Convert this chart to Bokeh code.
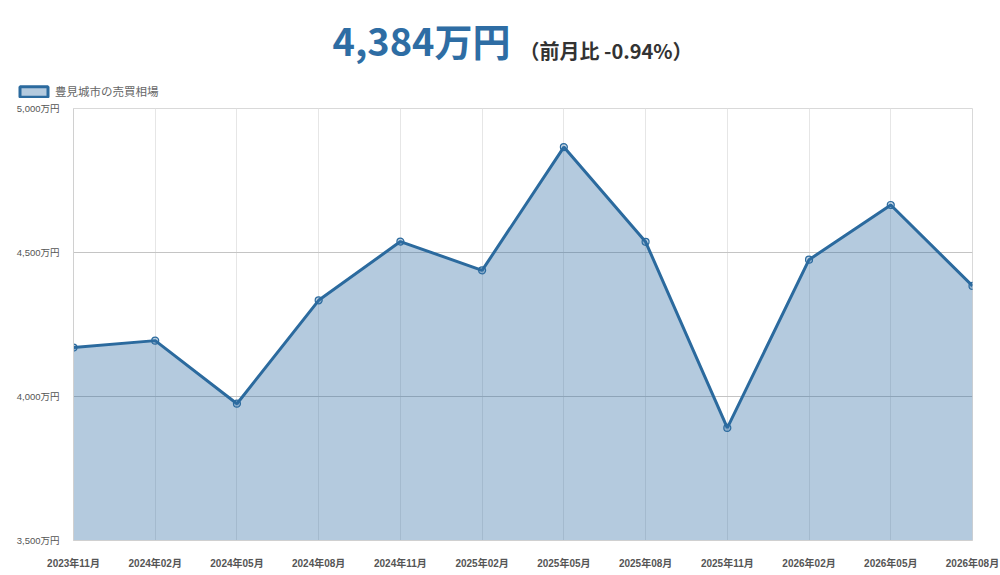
from bokeh.plotting import figure
from bokeh.models import (Range1d, FixedTicker, Label, Legend, LegendItem,
                          ColumnDataSource)
from bokeh.embed import file_html
from bokeh.resources import INLINE

# ---- data ----
months = ["2023年11月", "2024年02月", "2024年05月", "2024年08月", "2024年11月",
          "2025年02月", "2025年05月", "2025年08月", "2025年11月", "2026年02月",
          "2026年05月", "2026年08月"]
prices = [4170, 4194, 3975, 4334, 4538, 4438, 4866, 4537, 3891, 4475, 4665, 4384]
y_ticks = [3500, 4000, 4500, 5000]
y_tick_labels = ["3,500万円", "4,000万円", "4,500万円", "5,000万円"]
series_name = "豊見城市の売買相場"
headline = "4,384万円"
change_text = "（前月比 -0.94%）"

LINE = "#2b6a9e"
FILL = "#2e6da4"
JP = "'Noto Sans CJK JP'"
AX = "'Liberation Sans', 'Noto Sans CJK JP'"

W, H = 1000, 575
HEADER_H = 100
FRAME_L, FRAME_R, FRAME_T, FRAME_B = 73, 972, 108, 540
idx = list(range(len(months)))

# ---------- header (titles + legend) ----------
head = figure(width=W, height=HEADER_H, output_backend="svg", toolbar_location=None,
              x_axis_location=None, y_axis_location=None,
              x_range=Range1d(0, W), y_range=Range1d(HEADER_H, 0),
              min_border=0)
head.grid.visible = False
head.outline_line_color = None
head.background_fill_color = "white"
head.border_fill_color = "white"

head.add_layout(Label(x=332, y=39, text=headline, text_font=JP,
                      text_font_size="38px", text_font_style="bold",
                      text_color="#2e6da4", text_baseline="alphabetic"))
head.add_layout(Label(x=519, y=50, text=change_text, text_font=JP,
                      text_font_size="20px", text_font_style="bold",
                      text_color="#333333", text_baseline="alphabetic"))

# legend key proxy (hidden renderer, only used for the legend swatch)
proxy = head.quad(left=idx[:1], right=idx[:1], top=prices[:1], bottom=prices[:1],
                  fill_color=FILL, fill_alpha=0.36, line_color=LINE, line_width=3,
                  visible=False)
legend = Legend(items=[LegendItem(label=series_name, renderers=[proxy])],
                location=(16, 1), padding=0, margin=0, spacing=0,
                glyph_width=35, glyph_height=13, label_height=13,
                label_standoff=4, label_text_font=JP, label_text_font_size="11.5px",
                label_text_color="#666666", border_line_alpha=0,
                background_fill_alpha=0, inactive_fill_alpha=0)
head.add_layout(legend, "center")

# ---------- main chart ----------
src = ColumnDataSource(dict(x=idx, y=prices, base=[y_ticks[0]] * len(idx)))

p = figure(width=W, height=H - HEADER_H, output_backend="svg", toolbar_location=None,
           x_range=Range1d(0, len(months) - 1), y_range=Range1d(y_ticks[0], y_ticks[-1]),
           min_border_left=FRAME_L, min_border_right=W - FRAME_R,
           min_border_top=FRAME_T - HEADER_H, min_border_bottom=H - FRAME_B)
p.outline_line_color = "#d9d9d9"
p.background_fill_color = "white"
p.border_fill_color = "white"

p.varea(x="x", y1="base", y2="y", source=src, fill_color=FILL, fill_alpha=0.36)
p.line(x="x", y="y", source=src, line_color=LINE, line_width=3)
p.scatter(x="x", y="y", source=src, size=7, fill_color=FILL, fill_alpha=0.3,
          line_color=LINE, line_width=1.2)

p.xaxis.ticker = FixedTicker(ticks=idx)
p.xaxis.major_label_overrides = {i: m for i, m in zip(idx, months)}
p.yaxis.ticker = FixedTicker(ticks=y_ticks)
p.yaxis.major_label_overrides = {t: l for t, l in zip(y_ticks, y_tick_labels)}
for ax in (p.xaxis[0], p.yaxis[0]):
    ax.major_tick_line_color = None
    ax.minor_tick_line_color = None
    ax.axis_line_color = "#d0d0d0"
    ax.major_label_text_font = AX
    ax.major_label_text_color = "#555555"
p.xaxis.major_label_text_font_size = "10px"
p.xaxis.major_label_text_font_style = "bold"
p.xaxis.major_label_standoff = 11
p.yaxis.major_label_text_font_size = "9.5px"
p.yaxis.major_label_standoff = 8

p.xgrid.grid_line_color = "#e6e6e6"
p.ygrid.grid_line_color = "#c4c4c4"
p.xgrid.ticker = FixedTicker(ticks=idx)
p.ygrid.ticker = FixedTicker(ticks=y_ticks)

# two separate roots, stacked: header then chart
open("out.html", "w").write(file_html([head, p], INLINE))
